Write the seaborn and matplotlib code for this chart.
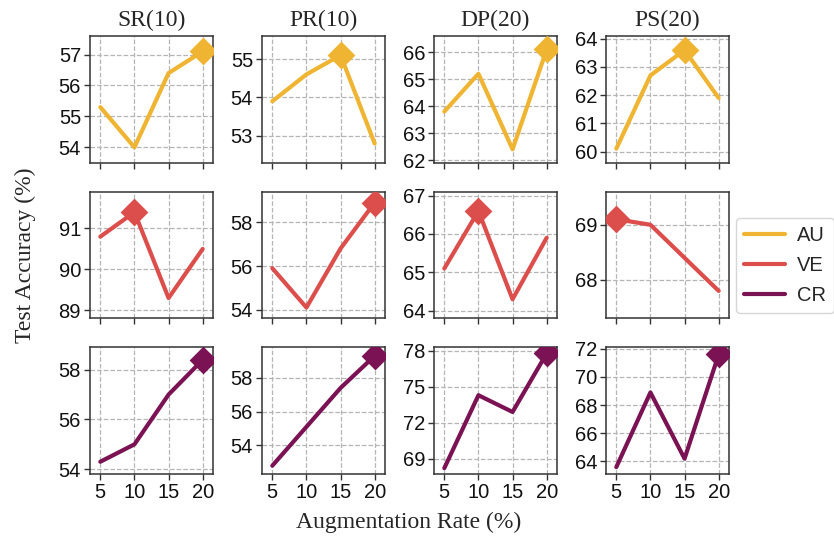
import numpy as np
import pandas as pd
import matplotlib
matplotlib.use("Agg")
import matplotlib.pyplot as plt
import seaborn as sns
from matplotlib.lines import Line2D

# ---------------- data ----------------
rates = [5, 10, 15, 20]
datasets = ["SR(10)", "PR(10)", "DP(20)", "PS(20)"]
methods = ["AU", "VE", "CR"]
colors = ["#EFB431", "#DC4E4B", "#7A1253"]

au_vals = [
    [55.3, 54.0, 56.4, 57.1],
    [53.9, 54.6, 55.1, 52.8],
    [63.8, 65.2, 62.4, 66.1],
    [60.1, 62.7, 63.6, 61.9],
]
ve_vals = [
    [90.8, 91.4, 89.3, 90.5],
    [55.9, 54.1, 56.8, 58.9],
    [65.1, 66.6, 64.3, 65.9],
    [69.1, 69.0, 68.4, 67.8],
]
cr_vals = [
    [54.3, 55.0, 57.0, 58.4],
    [52.8, 55.1, 57.4, 59.3],
    [68.2, 74.3, 72.9, 77.8],
    [63.6, 68.9, 64.2, 71.6],
]

au_ticks = [[54, 55, 56, 57], [53, 54, 55], [62, 63, 64, 65, 66], [60, 61, 62, 63, 64]]
ve_ticks = [[89, 90, 91], [54, 56, 58], [64, 65, 66, 67], [68, 69]]
cr_ticks = [[54, 56, 58], [54, 56, 58], [69, 72, 75, 78], [64, 66, 68, 70, 72]]

all_vals = [au_vals, ve_vals, cr_vals]
all_ticks = [au_ticks, ve_ticks, cr_ticks]

# ---------------- style ----------------
sns.set_style("ticks")
plt.rcParams["font.family"] = ["Liberation Sans", "DejaVu Sans"]
serif = ["Liberation Serif", "DejaVu Serif"]

fig, axes = plt.subplots(3, 4, figsize=(8.34, 5.37), dpi=100, sharex=True)
fig.subplots_adjust(left=0.108, right=0.874, top=0.933, bottom=0.117,
                    wspace=0.40, hspace=0.228)

for r, (vals, ticks) in enumerate(zip(all_vals, all_ticks)):
    for c in range(4):
        ax = axes[r, c]
        df = pd.DataFrame({"rate": rates, "acc": vals[c]})
        sns.lineplot(data=df, x="rate", y="acc", ax=ax, color=colors[r],
                     linewidth=3.0, zorder=3)
        best = df.loc[[df["acc"].idxmax()]]
        sns.scatterplot(data=best, x="rate", y="acc", ax=ax, color=colors[r],
                        marker="D", s=200, edgecolor=colors[r], linewidth=0,
                        zorder=4, legend=False)
        ax.set_ylim(min(vals[c]) - 0.5, max(vals[c]) + 0.5)
        ax.set_yticks(ticks[c])
        ax.set_xticks(rates)
        ax.set_xlim(3.5, 21.5)
        ax.grid(True, linestyle="--", color="#b5b5b5", linewidth=0.9)
        ax.set_axisbelow(True)
        ax.set_xlabel("")
        ax.set_ylabel("")
        for sp in ax.spines.values():
            sp.set_visible(True)
            sp.set_color("#333333")
            sp.set_linewidth(1.1)
        ax.tick_params(axis="both", labelsize=14.5, length=4.5, width=1.0,
                       color="#333333", labelcolor="#111111", pad=2)
        if r == 0:
            ax.set_title(datasets[c], fontsize=17, family=serif, pad=7)

fig.text(0.03, 0.525, "Test Accuracy (%)", rotation=90, fontsize=17,
         family=serif, ha="center", va="center")
fig.text(0.49, 0.028, "Augmentation Rate (%)", fontsize=17,
         family=serif, ha="center", va="center")

handles = [Line2D([0], [0], color=col, linewidth=3.0) for col in colors]
fig.legend(handles, methods, loc="center left", bbox_to_anchor=(0.878, 0.505),
           fontsize=14.5, handlelength=2.0, frameon=True, borderpad=0.4,
           borderaxespad=0.2, labelspacing=0.55, handletextpad=0.6)

fig.savefig("out.png", dpi=100)
